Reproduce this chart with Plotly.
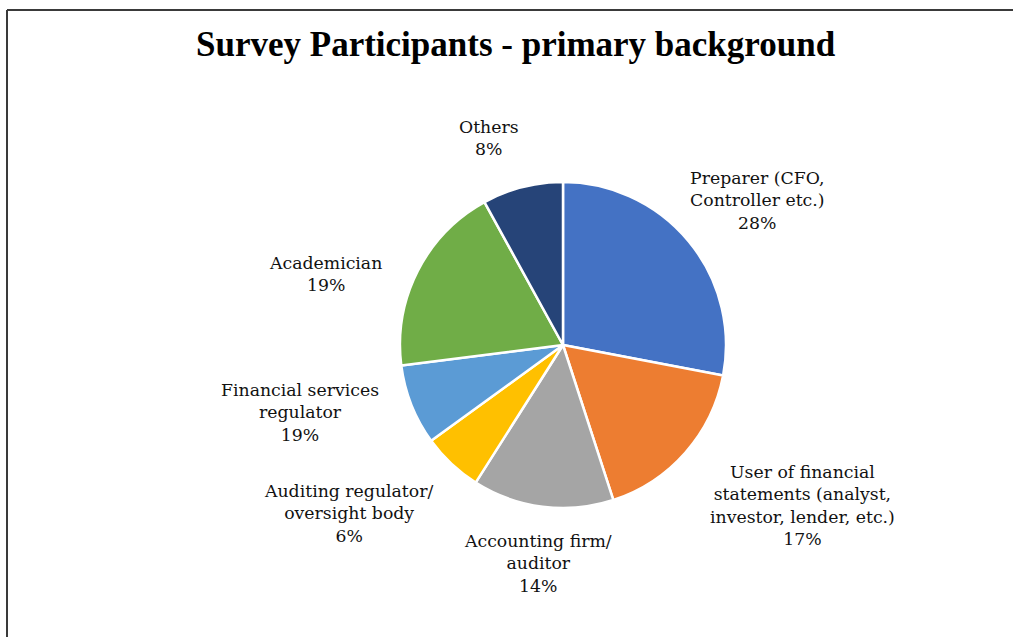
import plotly.graph_objects as go

W, H = 1013, 637

categories = [
    "Preparer (CFO,<br>Controller etc.)",
    "User of financial<br>statements (analyst,<br>investor, lender, etc.)",
    "Accounting firm/<br>auditor",
    "Auditing regulator/<br>oversight body",
    "Financial services<br>regulator",
    "Academician",
    "Others",
]
values = [28, 17, 14, 6, 8, 19, 8]
# percentages as printed on the original chart labels
label_pct = ["28%", "17%", "14%", "6%", "19%", "19%", "8%"]
colors = ["#4472C4", "#ED7D31", "#A5A5A5", "#FFC000", "#5B9BD5", "#70AD47", "#264478"]

# label centre positions in pixels (x, y from top)
label_pos = [(757, 200), (802, 505), (538, 563), (348, 513), (300, 412), (325, 274), (489, 138)]


def px(x, y):
    return x / W, 1 - y / H


cx, cy, r = 563, 345, 163
x0, y0 = px(cx - r, cy + r)
x1, y1 = px(cx + r, cy - r)

fig = go.Figure(
    go.Pie(
        labels=categories,
        values=values,
        sort=False,
        direction="clockwise",
        rotation=0,
        marker=dict(colors=colors, line=dict(color="white", width=2.5)),
        textinfo="none",
        hoverinfo="label+percent",
        domain=dict(x=[x0, x1], y=[y0, y1]),
        showlegend=False,
    )
)

annotations = []
for cat, pct, (lx, ly) in zip(categories, label_pct, label_pos):
    ax, ay = px(lx, ly)
    annotations.append(
        dict(
            text=f"{cat}<br>{pct}",
            x=ax, y=ay, xref="paper", yref="paper",
            xanchor="center", yanchor="middle",
            showarrow=False, align="center",
            font=dict(family="DejaVu Serif", size=17.3, color="#111111"),
        )
    )

tx, ty = px(516, 44)
annotations.append(
    dict(
        text="<b>Survey Participants - primary background</b>",
        x=tx, y=ty, xref="paper", yref="paper",
        xanchor="center", yanchor="middle", showarrow=False,
        font=dict(family="Liberation Serif", size=35, color="#000000"),
    )
)

lx0, ly0 = px(7, 10)
lxr, _ = px(W + 5, 0)
shapes = [
    dict(type="line", xref="paper", yref="paper", x0=lx0, y0=ly0, x1=lxr, y1=ly0,
         line=dict(color="#3a3a3a", width=2)),
    dict(type="line", xref="paper", yref="paper", x0=lx0, y0=ly0, x1=lx0, y1=-0.01,
         line=dict(color="#3a3a3a", width=2)),
]

fig.update_layout(
    width=W, height=H,
    margin=dict(l=0, r=0, t=0, b=0),
    paper_bgcolor="white",
    plot_bgcolor="white",
    annotations=annotations,
    shapes=shapes,
)

fig.write_html("out.html")
